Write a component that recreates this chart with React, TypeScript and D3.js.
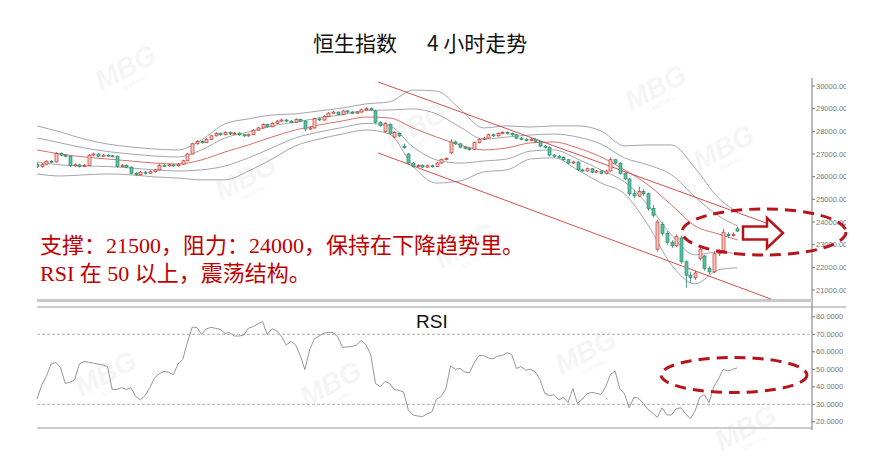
import React from 'react';
import * as d3 from 'd3';

// ---- candle data (HSI 4h) ----
const opens = [
  26550,26450,26550,26680,26650,27020,26950,26900,26480,26520,
  26450,26500,26950,27000,26900,26950,26920,26900,26450,26500,
  26420,26150,26080,26200,26150,26220,26300,26500,26480,26520,
  26480,26550,26700,27000,27450,27550,27500,27650,27800,27900,
  27850,27950,27880,27920,27850,27800,27850,28050,28150,28300,
  28200,28350,28450,28500,28450,28400,28520,28450,28100,28150,
  28550,28500,28650,28800,28850,28750,28900,28850,28800,28850,
  28950,29000,28900,28400,28000,28300,27750,27900,27350,27000,
  26600,26450,26500,26420,26480,26450,26600,26750,27050,27530,
  27450,27300,27250,27200,27500,27650,27700,27850,27800,27900,
  27950,27900,27850,27700,27650,27600,27650,27550,27350,27300,
  26950,26900,26850,26750,26600,26650,26300,26250,26350,26200,
  26250,26150,26250,26750,26600,26150,25900,25250,25150,25350,
  25250,24600,22800,23900,23500,23100,22950,23300,22250,21650,
  21550,22400,22500,21950,21800,22600,22750,23450,23400,23700
];
const closes = [
  26450,26550,26680,26650,27020,26950,26900,26480,26520,26450,
  26500,26950,27000,26900,26950,26920,26900,26450,26500,26420,
  26150,26080,26200,26150,26220,26300,26500,26480,26520,26480,
  26550,26700,27000,27450,27550,27500,27650,27800,27900,27850,
  27950,27880,27920,27850,27800,27850,28050,28150,28300,28200,
  28350,28450,28500,28450,28400,28520,28450,28100,28150,28550,
  28500,28650,28800,28850,28750,28900,28850,28800,28850,28950,
  29000,28950,28400,28250,28350,27900,27950,27800,27280,26600,
  26450,26500,26420,26480,26450,26600,26750,26800,27530,27450,
  27300,27250,27200,27500,27650,27700,27850,27800,27900,27950,
  27900,27850,27700,27650,27600,27650,27550,27350,27300,26950,
  26900,26850,26750,26600,26650,26300,26250,26350,26200,26250,
  26150,26250,26750,26600,26150,25900,25250,25150,25350,25250,
  24600,24300,24000,23500,23100,22950,23350,22250,21650,21550,
  21750,22800,21950,21800,22600,22700,23550,23400,23450,23600
];
const highs = [
  26620,26600,26720,26730,27080,27070,27000,26930,26580,26570,
  26560,27000,27060,27040,27000,26990,26960,26930,26560,26540,
  26450,26200,26250,26240,26280,26350,26560,26550,26570,26560,
  26600,26750,27050,27500,27620,27600,27700,27850,27960,27950,
  28000,27990,27970,27960,27890,27900,28100,28200,28350,28340,
  28400,28500,28560,28550,28490,28570,28560,28480,28200,28600,
  28600,28700,28850,28900,28880,28950,28940,28890,28900,29000,
  29060,29050,28950,28450,28400,28350,28000,27950,27450,27050,
  26650,26560,26550,26530,26530,26650,26800,26850,27650,27600,
  27480,27350,27300,27550,27700,27760,27900,27900,27950,28000,
  28000,27950,27880,27750,27700,27700,27690,27580,27400,27330,
  27000,26950,26900,26780,26700,26680,26350,26400,26380,26300,
  26280,26300,26850,26780,26630,26200,25950,25400,25550,25450,
  25300,24750,24100,24000,23600,23200,23450,23400,22300,21800,
  21850,22900,22550,22050,22700,22800,23700,23550,23550,23800
];
const lows = [
  26380,26400,26500,26600,26620,26900,26850,26430,26440,26400,
  26420,26480,26920,26860,26870,26880,26850,26400,26420,26380,
  26100,26020,26050,26100,26120,26180,26280,26440,26450,26430,
  26450,26520,26680,26980,27420,27450,27480,27620,27780,27800,
  27820,27840,27850,27800,27750,27760,27830,28020,28120,28150,
  28180,28320,28420,28400,28350,28380,28400,28000,28050,28120,
  28450,28470,28620,28770,28700,28720,28800,28760,28770,28820,
  28920,28900,28350,28200,27950,27850,27700,27750,27230,26550,
  26400,26420,26380,26380,26400,26420,26570,26720,27000,27400,
  27250,27200,27150,27170,27470,27620,27680,27750,27770,27870,
  27860,27800,27650,27600,27550,27560,27500,27300,27250,26900,
  26850,26800,26700,26550,26560,26250,26200,26220,26150,26150,
  26100,26100,26220,26550,26100,25850,25150,25050,25100,25150,
  24500,24200,22700,23400,23000,22850,22900,22150,21100,21300,
  21450,22300,21850,21700,21750,22500,22650,23300,23350,23550
];

// ---- RSI(14) ----
const rsiValues = [
  33,41,46,53,54,51,42,42.5,44,53,
  54.5,54,53.5,53,52.5,51.5,38.5,38.5,39.5,38.5,
  39.5,34.5,32.5,35,39.5,45,47.5,48.8,48.3,46.9,
  53,55.5,65.5,74,74,70,73,74,73.4,72.8,
  70.6,70.9,69,69,69.6,73.5,74.4,76,77.2,70,
  73.2,72,69,63.8,66,64,58,49.8,61,67.5,
  69,70.6,71.2,71,68.5,62.5,62.8,63,64,66.5,
  64,58.5,42,40,43,42,38.5,38,37,26.8,
  23.9,23.3,23,24.5,25.6,33,34.5,39,52,50,
  50.5,48.5,48,53.5,57.8,57.8,56.5,56,57.5,57.8,
  59.5,58.5,50.5,51.5,49.5,50,48.5,44.3,36.5,34.9,
  35.5,32.5,34,31,39,30.5,33,36,36.8,36.3,
  35.6,40,47,49,39,36,28,34,33.4,30.5,
  27,25,22.5,28,24,23.9,27.5,28,24.5,21.8,
  26,34,35.5,31,40,44.5,50,49,50,50.8
];

// ---- Bollinger bands (read every 5 bars) ----
const bandIndex = [0,5,10,15,20,25,30,35,40,45,50,55,60,65,70,75,80,85,90,95,100,105,110,115,120,125,130,135,140,145,149];
const bbUpper2 = [28240,27970,27660,27440,27310,27220,27180,27620,28330,28550,28720,28770,28900,29030,29210,29300,29820,29780,28990,28150,28240,28190,28240,28240,28020,27360,27400,27400,26380,25060,24440];
const bbUpper1 = [27710,27490,27270,27110,27000,26910,26870,27180,27710,27970,28240,28410,28590,28740,28920,28940,28990,28770,28190,27660,27750,27840,27880,27750,27440,26830,26520,26080,25110,24270,23830];
const bbMid    = [27180,27000,26870,26780,26690,26600,26560,26740,27090,27400,27750,28060,28280,28460,28630,28590,28150,27750,27400,27180,27270,27490,27530,27270,26870,26300,25640,24750,23830,23470,23210];
const bbLower1 = [26650,26520,26470,26450,26380,26300,26250,26300,26470,26830,27270,27710,27970,28170,28350,28240,27310,26740,26600,26690,26780,27130,27180,26780,26300,25770,24750,23430,22550,22680,22590];
const bbLower2 = [26120,26030,26080,26120,26080,25990,25940,25860,25860,26250,26780,27360,27660,27880,28060,27880,26470,25720,25810,26210,26300,26780,26830,26300,25720,25240,23870,22110,21270,21890,21980];

// ---- channel (bar index, price) ----
const channelUpper = [[72.6, 30177], [156, 23891]];
const channelLower = [[72.6, 27046], [157.2, 20519]];

// ---- axes ----
const priceTicks = [21000,22000,23000,24000,25000,26000,27000,28000,29000,30000];
const rsiTicks = [20,30,40,50,60,70,80];
const rsiLevels = [30,70];

const titleLeft = '恒生指数';
const titleRight = '4 小时走势';
const noteLines = ['支撑：21500，阻力：24000，保持在下降趋势里。', 'RSI 在 50 以上，震荡结构。'];

const watermarks = [
  [130, 76], [660, 96], [728, 156], [250, 186], [470, 254],
  [110, 382], [590, 360], [335, 392], [750, 436], [420, 134]
];

export default function App() {
  const W = 878, H = 464;
  const x = d3.scaleLinear().domain([0, 165]).range([37, 812.5]);
  const y = d3.scaleLinear().domain([21000, 30000]).range([290, 86]);
  const yr = d3.scaleLinear().domain([20, 80]).range([421.8, 316.8]);

  const bandLine = d3.line<number>()
    .x((_, k) => x(bandIndex[k]))
    .y(d => y(d))
    .curve(d3.curveMonotoneX);
  const rsiLine = d3.line<number>().x((_, i) => x(i)).y(d => yr(d));
  const chan = d3.line<number[]>().x(d => x(d[0])).y(d => y(d[1]));

  const red = '#b8141c';
  const axisX = 812;

  return (
    <svg width={W} height={H} style={{ position: 'absolute', left: 0, top: 0, background: '#fff' }}
      fontFamily="'Liberation Sans', Arial, sans-serif">
      <defs>
        <clipPath id="plotTop"><rect x={37} y={76} width={axisX - 37} height={226} /></clipPath>
        <clipPath id="lbl"><rect x={0} y={0} width={846} height={H} /></clipPath>
      </defs>
      <rect x={0} y={0} width={W} height={H} fill="#fff" />

      {/* watermarks */}
      {watermarks.map(([wx, wy], k) => (
        <g key={k} transform={`translate(${wx},${wy}) rotate(-28)`} opacity={0.045}>
          <text x={0} y={0} fontSize={28} fontWeight="bold" fontStyle="italic" fill="#333" textAnchor="middle">MBG</text>
          <text x={0} y={10} fontSize={7} fill="#333" textAnchor="middle">Markets</text>
        </g>
      ))}

      {/* title */}
      <text x={313} y={51} fontSize={21} fill="#111" fontFamily="'Noto Sans CJK SC', sans-serif">{titleLeft}</text>
      <text x={427} y={51} fontSize={21} fill="#111" fontFamily="'Noto Sans CJK SC', sans-serif">{titleRight}</text>

      {/* top panel axis */}
      <line x1={axisX} x2={axisX} y1={78} y2={302} stroke="#777" strokeWidth={1} />
      <g clipPath="url(#lbl)">
        {priceTicks.map(t => (
          <g key={t}>
            <line x1={axisX} x2={axisX + 3} y1={y(t)} y2={y(t)} stroke="#777" />
            <text x={axisX + 4} y={y(t) + 2.6} fontSize={7.5} fill="#777">{d3.format('.2f')(t)}</text>
          </g>
        ))}
      </g>

      <g clipPath="url(#plotTop)">
        {/* bands */}
        {[bbUpper2, bbUpper1, bbLower1, bbLower2].map((arr, k) => (
          <path key={k} d={bandLine(arr) || ''} fill="none" stroke="#9a9aa6" strokeWidth={0.9} />
        ))}
        <path d={bandLine(bbMid) || ''} fill="none" stroke="#d2605a" strokeWidth={0.9} />

        {/* channel */}
        <path d={chan(channelUpper) || ''} stroke="#cf3b3b" strokeWidth={0.9} fill="none" />
        <path d={chan(channelLower) || ''} stroke="#cf3b3b" strokeWidth={0.9} fill="none" />

        {/* candles */}
        {closes.map((c, i) => {
          const o = opens[i];
          const up = c >= o;
          const cx = Math.round(x(i)) + 0.5;
          const top = y(Math.max(o, c));
          const h = Math.max(1, Math.abs(y(o) - y(c)));
          const stroke = up ? '#c0392b' : '#2b8a6c';
          return (
            <g key={i}>
              <line x1={cx} x2={cx} y1={y(highs[i])} y2={y(lows[i])} stroke={stroke} strokeWidth={0.8} />
              <rect x={cx - 1.5} y={top} width={3} height={h} fill={up ? '#f6c6c2' : '#5cbf9e'} stroke={stroke} strokeWidth={0.7} />
            </g>
          );
        })}
      </g>

      {/* annotation */}
      {noteLines.map((t, k) => (
        <text key={k} x={40} y={253 + k * 28} fontSize={22} fill="#c00000"
          fontFamily="'Liberation Serif', 'Noto Sans CJK SC', serif">{t}</text>
      ))}

      {/* top ellipse + arrow */}
      <ellipse cx={764} cy={232} rx={82} ry={23} fill="none" stroke={red} strokeWidth={3} strokeDasharray="11 7" />
      <path d="M743,226.5 L767,226.5 L767,218 L783,233 L767,248 L767,239.5 L743,239.5 Z" fill="#fff" stroke={red} strokeWidth={2.5} />

      {/* separator */}
      <rect x={37} y={299} width={axisX - 37} height={3} fill="#c8c8c8" />

      {/* RSI panel */}
      <line x1={37} x2={846} y1={307} y2={307} stroke="#bbb" strokeWidth={1.5} />
      <line x1={37} x2={axisX} y1={428} y2={428} stroke="#bbb" strokeWidth={1.5} />
      <line x1={axisX} x2={axisX} y1={302} y2={430} stroke="#777" />
      {rsiLevels.map(l => (
        <line key={l} x1={37} x2={axisX} y1={yr(l)} y2={yr(l)} stroke="#999" strokeDasharray="3 2" strokeWidth={0.8} />
      ))}
      <g clipPath="url(#lbl)">
        {rsiTicks.map(t => (
          <g key={t}>
            <line x1={axisX} x2={axisX + 3} y1={yr(t)} y2={yr(t)} stroke="#777" />
            <text x={axisX + 4} y={yr(t) + 2.6} fontSize={7.5} fill="#777">{d3.format('.4f')(t)}</text>
          </g>
        ))}
      </g>
      <path d={rsiLine(rsiValues) || ''} fill="none" stroke="#8a8a8a" strokeWidth={0.9} />
      <text x={416} y={328} fontSize={19} fill="#111">RSI</text>

      <ellipse cx={734} cy={375} rx={73} ry={17.5} fill="none" stroke={red} strokeWidth={3} strokeDasharray="11 7" />
    </svg>
  );
}
